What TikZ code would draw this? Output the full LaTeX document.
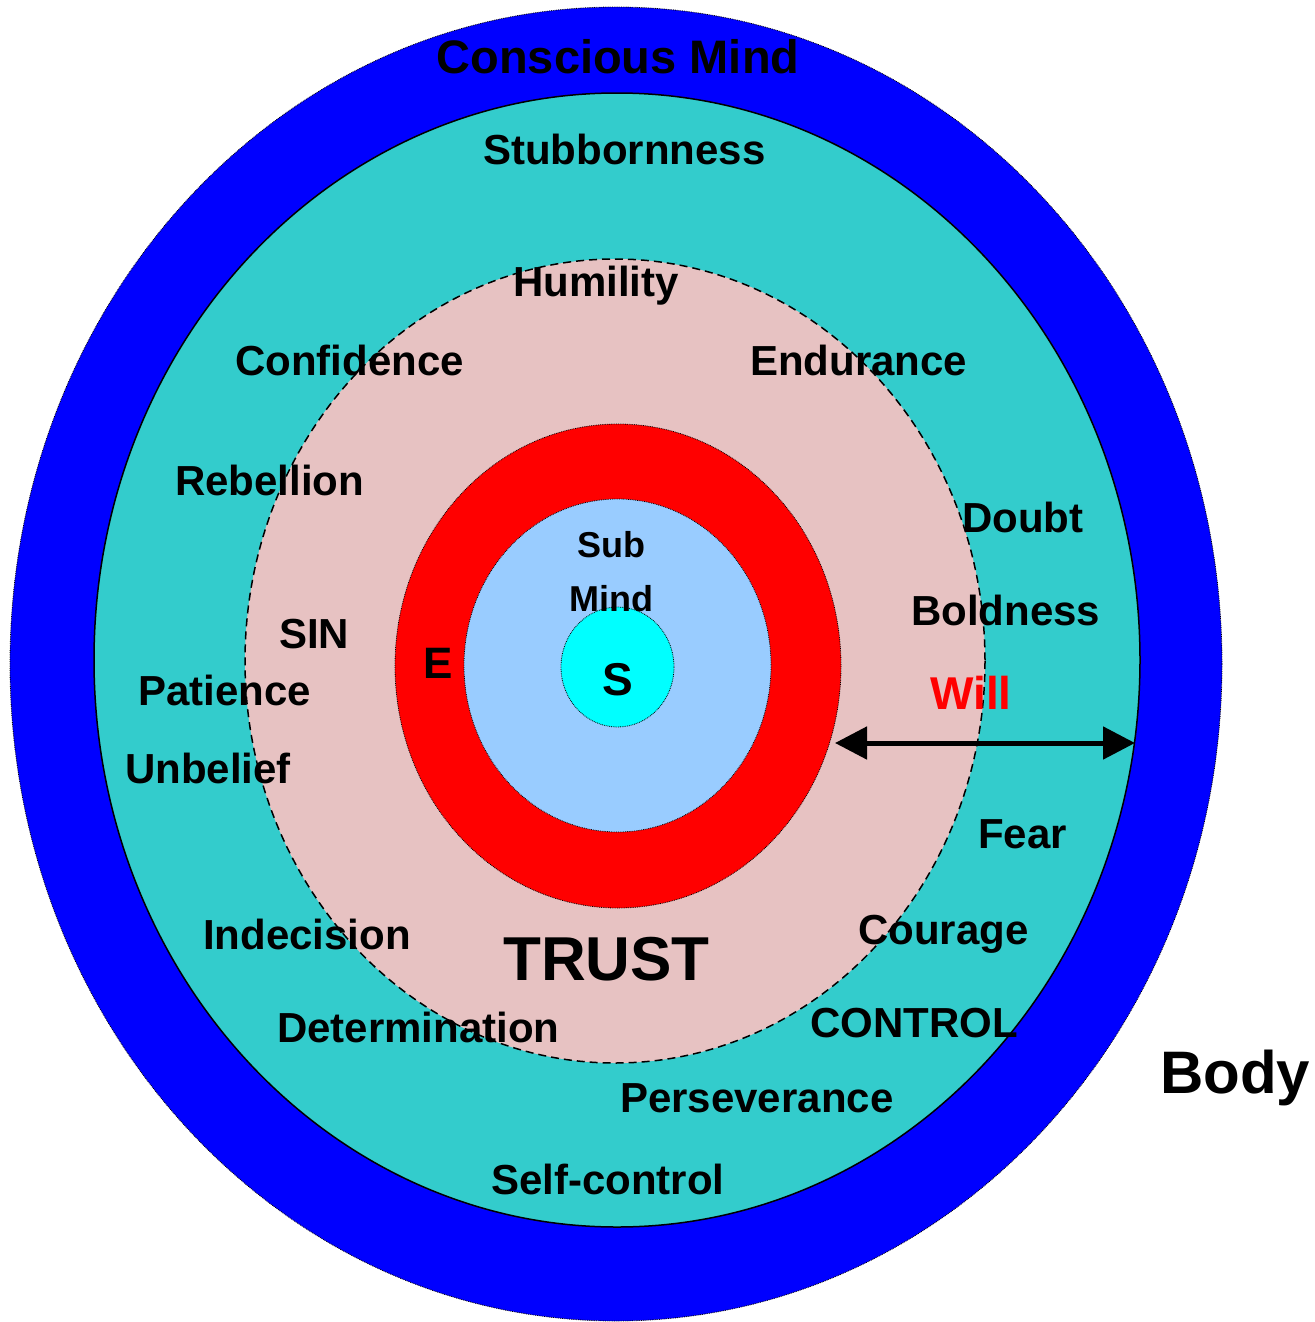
\documentclass[tikz,border=0pt]{standalone}
\usepackage{fontspec}
\setmainfont{Liberation Sans}
\usepackage{xcolor}
\usetikzlibrary{arrows.meta}
\definecolor{bodyblue}{RGB}{0,0,255}
\definecolor{mindteal}{RGB}{51,204,204}
\definecolor{soulpink}{RGB}{231,194,194}
\definecolor{subblue}{RGB}{153,204,255}
\definecolor{spiritcyan}{RGB}{0,255,255}
\newcommand{\lblsize}[1]{\bfseries\fontsize{#1}{#1}\selectfont}

\begin{document}
\begin{tikzpicture}[x=1pt,y=-1pt,
  Word/.style={anchor=base west,inner sep=0pt,font=\lblsize{42}},
  Ring/.style={draw=black,densely dotted,line width=0.8pt}]
\useasboundingbox (0,0) rectangle (1314,1322);
\filldraw[fill=bodyblue,Ring] (616,664) ellipse [x radius=606,y radius=657];
\filldraw[fill=mindteal,draw=black,line width=1.5pt] (617,660) ellipse [x radius=523,y radius=567];
\filldraw[fill=soulpink,draw=black,line width=1.5pt,dash pattern=on 8pt off 5pt] (615,661) ellipse [x radius=370,y radius=402];
\filldraw[fill=red,Ring] (618,666) ellipse [x radius=223,y radius=242];
\filldraw[fill=subblue,Ring] (617.5,665.5) ellipse [x radius=153.5,y radius=166.5];
\filldraw[fill=spiritcyan,Ring] (617.5,667) ellipse [x radius=56.5,y radius=60];
\node[anchor=base,inner sep=0pt,font=\lblsize{47}] (conscious) at (618,74) {Conscious Mind};
\node[Word] (stubborn) at (483,164) {Stubbornness};
\node[Word] (humility) at (513,296) {Humility};
\node[Word] (confidence) at (235,375) {Confidence};
\node[Word] (endurance) at (750,375) {Endurance};
\node[Word] (rebellion) at (175,495) {Rebellion};
\node[Word] (doubt) at (962,532) {Doubt};
\node[Word] (boldness) at (911,625) {Boldness};
\node[Word] (sin) at (279,648) {SIN};
\node[Word] (patience) at (138,705) {Patience};
\node[Word] (unbelief) at (125,783) {Unbelief};
\node[Word] (fear) at (978,848) {Fear};
\node[Word] (courage) at (858,944) {Courage};
\node[Word] (indecision) at (203,949) {Indecision};
\node[Word] (control) at (810,1037) {CONTROL};
\node[Word] (determination) at (277,1042) {Determination};
\node[Word] (perseverance) at (620,1112) {Perseverance};
\node[Word] (selfcontrol) at (491,1194) {Self-control};
\node[Word,font=\lblsize{46},text=red] (will) at (930,709) {Will};
\node[Word,font=\lblsize{44}] (e) at (423,678) {E};
\node[anchor=base,inner sep=0pt,font=\lblsize{36}] (sub) at (611,557) {Sub};
\node[anchor=base,inner sep=0pt,font=\lblsize{36}] (mind) at (611,611) {Mind};
\node[anchor=base,inner sep=0pt,font=\lblsize{46}] (s) at (618,695) {S};
\node[Word,font=\lblsize{62}] (trust) at (503,980) {TRUST};
\node[Word,font=\lblsize{60}] (body) at (1160,1093) {Body};
\coordinate (willL) at (835,743);
\coordinate (willR) at (1135,743);
\draw[line width=5pt,{Triangle[length=32pt,width=32pt]}-{Triangle[length=32pt,width=32pt]}] (willL) -- (willR);
\end{tikzpicture}
\end{document}
